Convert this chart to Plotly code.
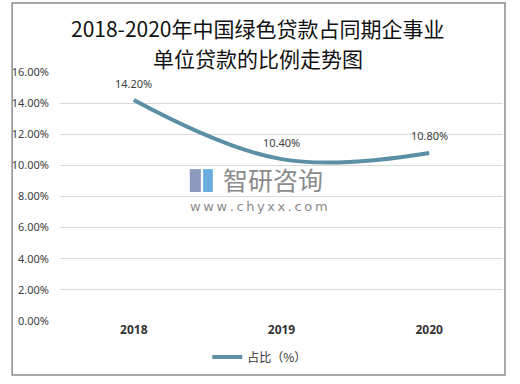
import plotly.graph_objects as go

years = ["2018", "2019", "2020"]
share = [14.2, 10.4, 10.8]
labels = ["14.20%", "10.40%", "10.80%"]
y_ticks = [0, 2, 4, 6, 8, 10, 12, 14, 16]
y_tick_text = ["0.00%", "2.00%", "4.00%", "6.00%", "8.00%", "10.00%", "12.00%", "14.00%", "16.00%"]
title_lines = ["2018-2020年中国绿色贷款占同期企事业", "单位贷款的比例走势图"]

line_color = "#5b8fa5"

fig = go.Figure()
fig.add_trace(go.Scatter(
    x=list(range(len(years))), y=share, mode="lines", name="占比（%）",
    line=dict(color=line_color, width=4, shape="spline", smoothing=1.1),
    hoverinfo="skip",
))

annotations = []
for i, (yv, lab) in enumerate(zip(share, labels)):
    annotations.append(dict(
        x=i, y=yv, text=lab, xref="x", yref="y", showarrow=False,
        yshift=17, xanchor="center", yanchor="middle",
        font=dict(size=11, color="#404040", family="Noto Sans, Arial")))

for i, t in enumerate(title_lines):
    annotations.append(dict(
        text=t, xref="paper", yref="paper", x=0.447, y=[1.177, 1.056][i],
        xanchor="center", yanchor="middle", showarrow=False,
        font=dict(size=21, color="#111111", family="Noto Sans CJK SC")))

thin = "\u2009"
annotations += [
    dict(text="智研咨询", xref="paper", yref="paper", x=0.481, y=0.572,
         xanchor="center", yanchor="middle", showarrow=False,
         font=dict(size=25, color="#8a8a8a", family="Noto Sans CJK SC")),
    dict(text=thin.join("www.chyxx.com"), xref="paper", yref="paper", x=0.449, y=0.458,
         xanchor="center", yanchor="middle", showarrow=False,
         font=dict(size=13, color="#8a8a8a", family="DejaVu Sans")),
]

fig.update_layout(
    width=520, height=384,
    margin=dict(l=60, r=17, t=72, b=63, autoexpand=False),
    paper_bgcolor="white", plot_bgcolor="white",
    xaxis=dict(
        showgrid=False, zeroline=False, showline=False,
        ticks="", tickfont=dict(size=12, color="#333333", family="Noto Sans, Arial"),
        tickvals=list(range(len(years))), ticktext=["<b>%s</b>" % y for y in years],
        range=[-0.5, 2.5],
    ),
    yaxis=dict(
        range=[0, 16], tickvals=y_ticks, ticktext=y_tick_text,
        showgrid=True, gridcolor="#d9d9d9", gridwidth=1, zeroline=False,
        showline=False, ticks="", ticklabelstandoff=10,
        tickfont=dict(size=11, color="#404040", family="Noto Sans, Arial"),
    ),
    showlegend=True,
    legend=dict(
        orientation="h", x=0.451, xanchor="center", y=-0.145, yanchor="middle",
        font=dict(size=12, color="#333333", family="Noto Sans CJK SC"),
        itemwidth=30,
    ),
    shapes=[
        dict(type="rect", xref="paper", yref="paper",
             x0=-0.108, x1=1.0045, y0=-0.217, y1=1.277,
             line=dict(color="#8c8c8c", width=1.5), fillcolor="rgba(0,0,0,0)"),
        dict(type="rect", xref="paper", yref="paper",
             x0=0.293, x1=0.318, y0=0.518, y1=0.610,
             line=dict(width=0), fillcolor="#8c9bbd"),
        dict(type="rect", xref="paper", yref="paper",
             x0=0.323, x1=0.345, y0=0.518, y1=0.610,
             line=dict(width=0), fillcolor="#6aaee0"),
    ],
    annotations=annotations,
)

fig.write_html("out.html", config={"displayModeBar": False},
               post_script="document.body.style.margin='0';")
